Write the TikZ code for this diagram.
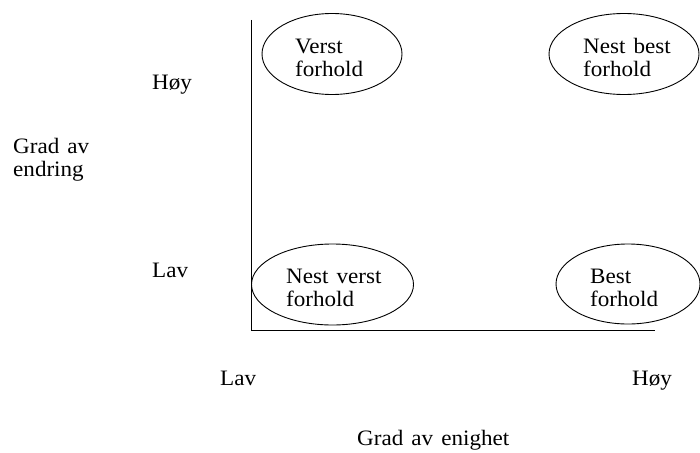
\documentclass[tikz,border=0pt]{standalone}
\usepackage{fontspec}
\setmainfont{Liberation Serif}[FakeStretch=1.05,WordSpace=1.4]
\usetikzlibrary{shapes.geometric}
\begin{document}
\begin{tikzpicture}[x=1pt,y=-1pt,
  lbl/.style={anchor=base west,inner sep=0pt,align=left,
    font=\fontsize{22}{23}\selectfont},
  oval/.style={draw,ellipse,line width=0.9pt,inner sep=0pt},
  axis/.style={line width=0.9pt}]
\useasboundingbox (0,0) rectangle (700,452);
% axes
\coordinate (ytop) at (251,20);
\coordinate (orig) at (251,330);
\coordinate (xend) at (655,330);
\draw[axis] (ytop) -- (orig) -- (xend);
% ellipses
\node[oval,minimum width=140pt,minimum height=81pt] (e1) at (332,54) {};
\node[oval,minimum width=150pt,minimum height=81pt] (e2) at (624,54) {};
\node[oval,minimum width=162pt,minimum height=81pt] (e3) at (332.5,284.5) {};
\node[oval,minimum width=144pt,minimum height=80pt] (e4) at (628,284) {};
% ellipse texts (anchored at the baseline of the last line)
\node[lbl] (t1) at (295,76) {Verst\\forhold};
\node[lbl] (t2) at (583,76) {Nest best\\forhold};
\node[lbl] (t3) at (286,306) {Nest verst\\forhold};
\node[lbl] (t4) at (590,306) {Best\\forhold};
% axis labels
\node[lbl] (yhi) at (152,89) {Høy};
\node[lbl] (ylo) at (152,277) {Lav};
\node[lbl] (ytitle) at (13,176) {Grad av\\endring};
\node[lbl] (xlo) at (220,385) {Lav};
\node[lbl] (xhi) at (632,385) {Høy};
\node[lbl] (xtitle) at (357,445) {Grad av enighet};
\end{tikzpicture}
\end{document}
